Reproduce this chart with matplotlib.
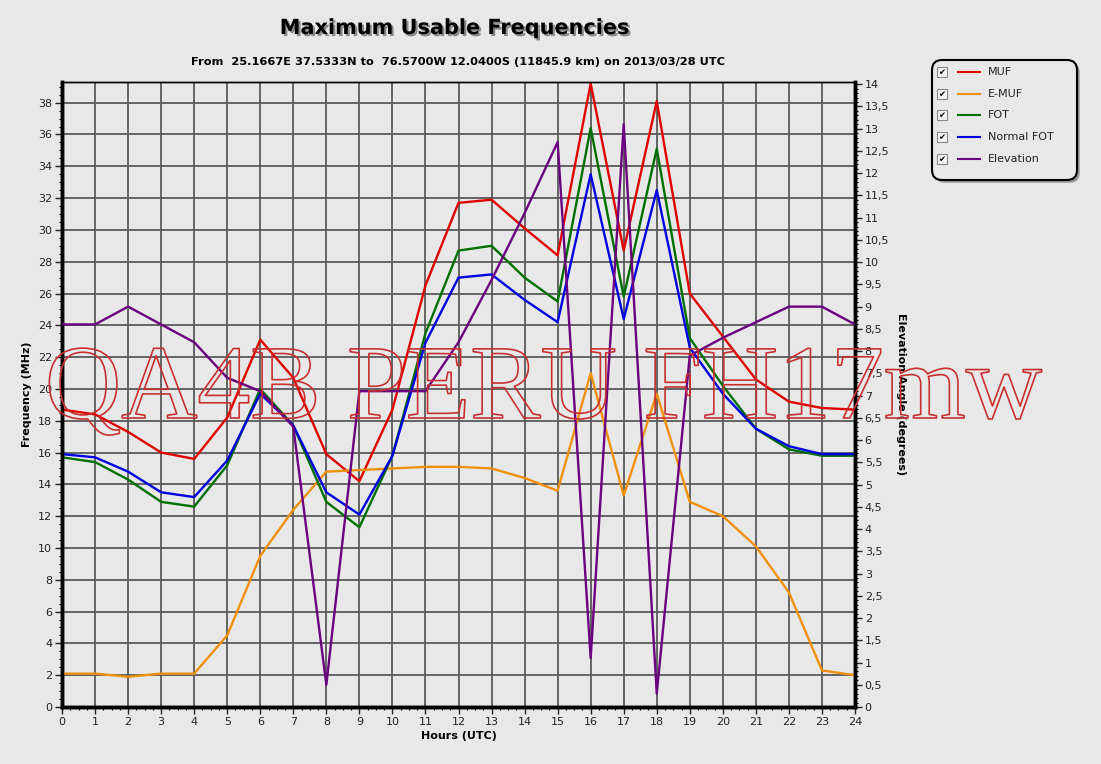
import matplotlib
matplotlib.use('Agg')
import matplotlib.pyplot as plt
import matplotlib.patheffects as pe
from matplotlib.patches import FancyBboxPatch, Rectangle
from matplotlib.ticker import MultipleLocator, FuncFormatter

# Data
hours = list(range(25))
muf = [18.7, 18.4, 17.3, 16.0, 15.6, 18.2, 23.1, 20.7, 15.9, 14.2, 18.7, 26.5, 31.7,
       31.9, 30.1, 28.4, 39.2, 28.7, 38.1, 26.0, 23.3, 20.6, 19.2, 18.8, 18.7]
emuf = [2.1, 2.1, 1.9, 2.1, 2.1, 4.5, 9.5, 12.4, 14.8, 14.9, 15.0, 15.1, 15.1,
        15.0, 14.4, 13.6, 21.0, 13.3, 19.7, 12.9, 12.0, 10.1, 7.2, 2.3, 2.0]
fot = [15.7, 15.4, 14.3, 12.9, 12.6, 15.2, 20.0, 17.7, 12.9, 11.3, 15.8, 23.5, 28.7,
       29.0, 27.0, 25.5, 36.4, 25.8, 35.1, 23.2, 20.2, 17.5, 16.2, 15.8, 15.8]
normal_fot = [15.9, 15.7, 14.8, 13.5, 13.2, 15.5, 19.7, 17.7, 13.5, 12.1, 15.8, 22.9, 27.0,
              27.2, 25.6, 24.2, 33.5, 24.4, 32.5, 22.6, 19.7, 17.5, 16.4, 15.9, 15.9]
elevation = [8.6, 8.6, 9.0, 8.6, 8.2, 7.4, 7.1, 6.3, 0.5, 7.1, 7.1, 7.1, 8.2,
             9.6, 11.1, 12.7, 1.1, 13.1, 0.3, 7.9, 8.3, 8.65, 9.0, 9.0, 8.6]

series = [('MUF', muf, '#e00000'), ('E-MUF', emuf, '#f0900a'), ('FOT', fot, '#007000'),
          ('Normal FOT', normal_fot, '#0000e0')]
elev_color = '#6a0080'

bg = '#e8e8e8'
fig = plt.figure(figsize=(11.01, 7.64), dpi=100, facecolor=bg)
ax = fig.add_axes([62 / 1101, 1 - 707 / 764, (855 - 62) / 1101, (707 - 82) / 764])
ax.set_facecolor(bg)
ax2 = ax.twinx()

for name, vals, col in series:
    ax.plot(hours, vals, color=col, lw=1.7, zorder=3)
ax2.plot(hours, elevation, color=elev_color, lw=1.7, zorder=4)

ax.set_xlim(0, 24)
ax.set_ylim(0, 39.3)
ax2.set_ylim(0, 14.05)

ax.xaxis.set_major_locator(MultipleLocator(1))
ax.xaxis.set_minor_locator(MultipleLocator(0.25))
ax.yaxis.set_major_locator(MultipleLocator(2))
ax.yaxis.set_minor_locator(MultipleLocator(0.5))
ax2.yaxis.set_major_locator(MultipleLocator(0.5))
ax2.yaxis.set_minor_locator(MultipleLocator(0.1))
ax2.yaxis.set_major_formatter(FuncFormatter(lambda v, p: ('%g' % v).replace('.', ',')))

ax.grid(True, which='major', color='#5a5a5a', lw=1.3)
ax.set_axisbelow(True)

for a in (ax, ax2):
    a.tick_params(which='major', length=5, width=1, labelsize=8, colors='#222222', pad=2)
    a.tick_params(which='minor', length=2.5, width=0.8)
    for s in ('left', 'bottom', 'right'):
        a.spines[s].set_linewidth(2.5)
    a.spines['top'].set_linewidth(1)

ax.set_xlabel('Hours (UTC)', fontsize=8, fontweight='bold', labelpad=3)
ax.set_ylabel('Frequency (MHz)', fontsize=8, fontweight='bold', labelpad=4)
ax2.set_ylabel('Elevation Angle (degrees)', fontsize=8, fontweight='bold',
               rotation=-90, labelpad=12)

# Titles
fig.text(455 / 1101, 1 - 28 / 764, 'Maximum Usable Frequencies', ha='center', va='center',
         fontsize=15, fontweight='bold',
         path_effects=[pe.withSimplePatchShadow(offset=(1.5, -1.5), alpha=0.4)])
fig.text(458 / 1101, 1 - 62 / 764,
         'From  25.1667E 37.5333N to  76.5700W 12.0400S (11845.9 km) on 2013/03/28 UTC',
         ha='center', va='center', fontsize=8.2, fontweight='bold')

# Watermark (hollow outline text)
fig.text(45 / 1101, 1 - 418 / 764, 'QA4B PERU FH17mw', ha='left', va='baseline',
         fontsize=76, family='Liberation Serif', color='none', zorder=10,
         path_effects=[pe.Stroke(linewidth=1.2, foreground='#c83030')])

# Legend panel
lax = fig.add_axes([928 / 1101, 1 - 184 / 764, 152 / 1101, 128 / 764])
lax.set_xlim(0, 152)
lax.set_ylim(128, 0)
lax.axis('off')
lax.add_patch(FancyBboxPatch((4, 4), 145, 120, boxstyle='round,pad=0,rounding_size=10',
                             fc=bg, ec='black', lw=1.5,
                             path_effects=[pe.withSimplePatchShadow(offset=(2, -2), alpha=0.5)]))
labels = [s[0] for s in series] + ['Elevation']
colors = [s[2] for s in series] + [elev_color]
for i, (lab, col) in enumerate(zip(labels, colors)):
    y = 16 + i * 21.7
    lax.add_patch(Rectangle((9, y - 5), 10, 10, fc='#f2f2f2', ec='#888888', lw=0.8))
    lax.text(14, y + 0.5, '\u2714', ha='center', va='center', fontsize=6, color='black')
    lax.plot([30, 52], [y, y], color=col, lw=1.5)
    lax.text(60, y, lab, ha='left', va='center', fontsize=8, color='#222222')

fig.savefig('out.png', dpi=100, facecolor=bg)
